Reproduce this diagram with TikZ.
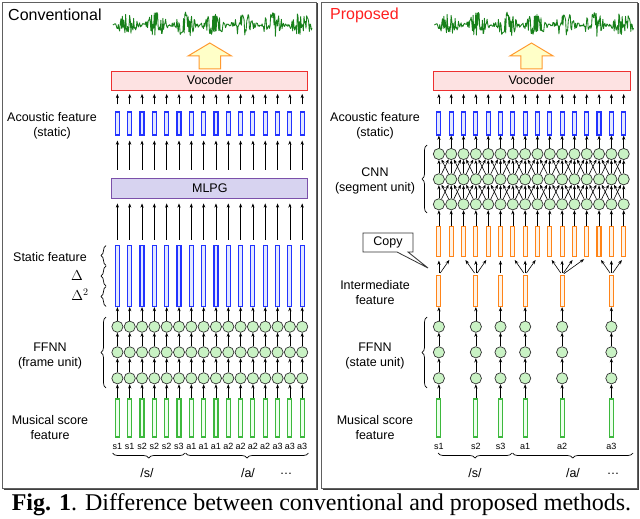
\documentclass[tikz,border=0pt]{standalone}
\usepackage{fontspec}
\setmainfont{Liberation Sans}
\newfontfamily\capfont{Liberation Serif}
\usetikzlibrary{arrows.meta,decorations.pathreplacing}
\definecolor{wavec}{HTML}{17801A}
\definecolor{bbord}{HTML}{2233FF}
\definecolor{bfill}{HTML}{E2E8FF}
\definecolor{gbord}{HTML}{3DB83D}
\definecolor{gfill}{HTML}{EDFFED}
\definecolor{obord}{HTML}{FF8418}
\definecolor{ofill}{HTML}{FFF3E6}
\definecolor{cfill}{HTML}{C9F2C4}
\definecolor{vfill}{HTML}{FDE2E2}
\definecolor{vbord}{HTML}{EE3030}
\definecolor{mfill}{HTML}{D7D3F0}
\definecolor{mbord}{HTML}{7B50AA}
\definecolor{afill}{HTML}{FFFFC8}
\definecolor{abord}{HTML}{FF9A30}
\definecolor{framec}{HTML}{606060}
\definecolor{propred}{HTML}{FF2020}
\newcommand\mywave[1]{%
 \pgfmathsetseed{11}%
 \draw[wavec, line width=0.85pt, line join=round, xshift=#1] plot[domain=113:312, samples=300] (\x,{25+(1.5+11.5*(abs(sin((\x-113)*6.2)))^1.6)*rand});%
}
\begin{document}
\begin{tikzpicture}[x=1pt,y=-1pt,
  lab/.style={font=\fontsize{12.5}{15}\selectfont, align=center, inner sep=0pt},
  small/.style={font=\fontsize{9}{10}\selectfont, inner sep=0pt},
  arr/.style={-{Stealth[length=4.2pt,width=3.2pt]}, line width=0.6pt},
  bbox/.style={draw=bbord, fill=bfill, line width=1.15pt, minimum width=4pt, inner sep=0pt},
  gbox/.style={draw=gbord, fill=gfill, line width=1.15pt, minimum width=4pt, minimum height=38pt, inner sep=0pt},
  obox/.style={draw=obord, fill=ofill, line width=1.15pt, minimum width=4pt, inner sep=0pt},
  cir/.style={circle, draw=black!80, fill=cfill, line width=0.7pt, minimum size=11.2pt, inner sep=0pt},
  wide/.style={line width=0.9pt, minimum width=196pt, inner sep=0pt, font=\fontsize{12.5}{15}\selectfont},
  frame/.style={draw=framec, line width=0.8pt},
  shade/.style={draw=black!75, line width=1.2pt},
  brc/.style={decorate, decoration={brace, amplitude=5pt}, line width=0.7pt},
  bigarrow/.style={draw=abord, fill=afill, line width=1pt, line join=miter}
]
\useasboundingbox (0,0) rectangle (640,519);
\fill[white] (0,0) rectangle (640,519);

% ================= frames
\draw[shade] (3.5,489.5) -- (317.5,489.5) -- (317.5,3.5);
\draw[frame] (2,2) rectangle (316,488);
\draw[shade] (322.5,489.5) -- (638.5,489.5) -- (638.5,3.5);
\draw[frame] (321,2) rectangle (637,488);

% ================= LEFT PANEL
\node[anchor=west, inner sep=0pt, font=\fontsize{16}{18}\selectfont] (convtitle) at (8,15) {Conventional};
\mywave{0pt}
\draw[bigarrow] (199,69) -- (199,56) -- (188,56) -- (209.8,43) -- (231.6,56) -- (220.6,56) -- (220.6,69) -- cycle;
\node[wide, draw=vbord, fill=vfill, minimum height=19pt] (Lv) at (209.8,80.5) {Vocoder};
\node[wide, draw=mbord, fill=mfill, minimum height=20pt] (Lmlpg) at (209.8,188) {MLPG};

\foreach \i in {0,...,15}{
  \pgfmathsetmacro\xx{117.4+12.32*\i}
  \node[bbox, minimum height=23pt] (La-\i) at (\xx,123.5) {};
  \node[bbox, minimum height=61pt] (Ls-\i) at (\xx,276) {};
  \node[cir] (Lf3-\i) at (\xx,326.7) {};
  \node[cir] (Lf2-\i) at (\xx,352.3) {};
  \node[cir] (Lf1-\i) at (\xx,378.3) {};
  \node[gbox] (Lm-\i) at (\xx,418) {};
  \draw[arr, shorten <=7pt, shorten >=3.5pt] (La-\i.north) -- (La-\i.north |- Lv.south);
  \draw[arr, shorten <=8pt, shorten >=5pt] (La-\i.south |- Lmlpg.north) -- (La-\i.south);
  \draw[arr, shorten <=5pt, shorten >=5pt] (Ls-\i.north) -- (Ls-\i.north |- Lmlpg.south);
  \draw[arr] (Lf3-\i) -- (Ls-\i.south);
  \draw[arr] (Lf2-\i) -- (Lf3-\i);
  \draw[arr] (Lf1-\i) -- (Lf2-\i);
  \draw[arr] (Lm-\i.north) -- (Lf1-\i);
}
\foreach \t [count=\i from 0] in {s1,s1,s2,s2,s2,s3,a1,a1,a1,a2,a2,a2,a2,a3,a3,a3}{
  \pgfmathsetmacro\xx{117.4+12.32*\i}
  \node[small] (Lt-\i) at (\xx,446) {\t};
}
\node[lab] (Llab1) at (52,125.5) {Acoustic feature\\(static)};
\node[lab] (Llab2) at (50,257.5) {Static feature};
\node[inner sep=0pt, font=\fontsize{14}{16}\selectfont] (Ldel) at (77,276) {$\Delta$};
\node[inner sep=0pt, font=\fontsize{14}{16}\selectfont] (Ldel2) at (80,295) {$\Delta^2$};
\node[lab] (Llab3) at (50,355.5) {FFNN\\(frame unit)};
\node[lab] (Llab4) at (50,428) {Musical score\\feature};
\draw[brc] (106,265.5) -- (106,245.5);
\draw[brc] (106,286) -- (106,266);
\draw[brc] (106,306.5) -- (106,286.5);
\draw[brc] (106,388) -- (106,317);
\draw[brc] (185,453) -- (112.5,453);
\draw[brc] (308.5,453) -- (185.5,453);
\node[lab] (Lps) at (147,473) {/s/};
\node[lab] (Lpa) at (248,473) {/a/};
\node[lab] (Ldots) at (286,474) {\ldots};

% ================= RIGHT PANEL
\node[anchor=west, inner sep=0pt, text=propred, font=\fontsize{16}{18}\selectfont] (proptitle) at (330,15) {Proposed};
\mywave{321.5pt}
\draw[bigarrow] (520.8,69) -- (520.8,56) -- (509.8,56) -- (531.5,43) -- (553.2,56) -- (542.2,56) -- (542.2,69) -- cycle;
\node[wide, draw=vbord, fill=vfill, minimum height=19pt, minimum width=197pt] (Rv) at (531.5,80.5) {Vocoder};

\foreach \i in {0,...,15}{
  \pgfmathsetmacro\xx{438.9+12.32*\i}
  \node[bbox, minimum height=23pt] (Ra-\i) at (\xx,123.5) {};
  \node[cir] (Rc3-\i) at (\xx,154) {};
  \node[cir] (Rc2-\i) at (\xx,179.3) {};
  \node[cir] (Rc1-\i) at (\xx,204.3) {};
  \node[obox, minimum height=30pt] (Ro-\i) at (\xx,241.7) {};
  \draw[arr, shorten <=7pt, shorten >=3.5pt] (Ra-\i.north) -- (Ra-\i.north |- Rv.south);
  \draw[arr] (Rc3-\i) -- (Ra-\i.south);
  \draw[arr] (Ro-\i.north) -- (Rc1-\i);
}
\foreach \i in {0,...,15}{
  \foreach \k in {-1,0,1}{
    \pgfmathtruncatemacro\j{\i+\k}
    \ifnum\j>-1 \ifnum\j<16
      \draw[arr] (Rc1-\i) -- (Rc2-\j);
      \draw[arr] (Rc2-\i) -- (Rc3-\j);
    \fi\fi
  }
}
\foreach \c/\a/\b/\t in {0/0/1/s1, 3/2/4/s2, 5/5/5/s3, 7/6/8/a1, 10/9/12/a2, 14/13/15/a3}{
  \pgfmathsetmacro\xx{438.9+12.32*\c}
  \node[obox, minimum height=31pt] (Ri-\c) at (\xx,291) {};
  \node[cir] (Rf3-\c) at (\xx,326.7) {};
  \node[cir] (Rf2-\c) at (\xx,352.3) {};
  \node[cir] (Rf1-\c) at (\xx,378.3) {};
  \node[gbox] (Rm-\c) at (\xx,418) {};
  \node[small] (Rt-\c) at (\xx,446) {\t};
  \draw[arr] (Rf3-\c) -- (Ri-\c.south);
  \draw[arr] (Rf2-\c) -- (Rf3-\c);
  \draw[arr] (Rf1-\c) -- (Rf2-\c);
  \draw[arr] (Rm-\c.north) -- (Rf1-\c);
  \foreach \k in {\a,...,\b}{
    \draw[arr, shorten <=2.3pt, shorten >=3.3pt] (Ri-\c.north) -- (Ro-\k.south);
  }
}
\node[lab] (Rlab1) at (375,125.5) {Acoustic feature\\(static)};
\node[lab] (Rlab2) at (375,180.5) {CNN\\(segment unit)};
\node[lab] (Rlab3) at (375,293) {Intermediate\\feature};
\node[lab] (Rlab4) at (375,355.5) {FFNN\\(state unit)};
\node[lab] (Rlab5) at (375,428) {Musical score\\feature};
\draw[brc] (427,213) -- (427,145);
\draw[brc] (427,388) -- (427,317);
\draw[brc] (512,453) -- (438,453);
\draw[brc] (633,453) -- (512.5,453);
\node[lab] (Rps) at (475,473) {/s/};
\node[lab] (Rpa) at (573,473) {/a/};
\node[lab] (Rdots) at (613,474) {\ldots};

% Copy callout
\draw[fill=white, draw=black!80, line width=0.8pt, line join=miter] (363,233) -- (413,233) -- (413,252) -- (408,252) -- (428,268) -- (397,252) -- (363,252) -- cycle;
\node[lab] (copy) at (388,242.5) {Copy};

% ================= caption
\node[inner sep=0pt, font=\capfont\fontsize{24}{28}\selectfont] (cap) at (321.5,505) {\textbf{Fig. 1}. Difference between conventional and proposed methods.};
\end{tikzpicture}
\end{document}
